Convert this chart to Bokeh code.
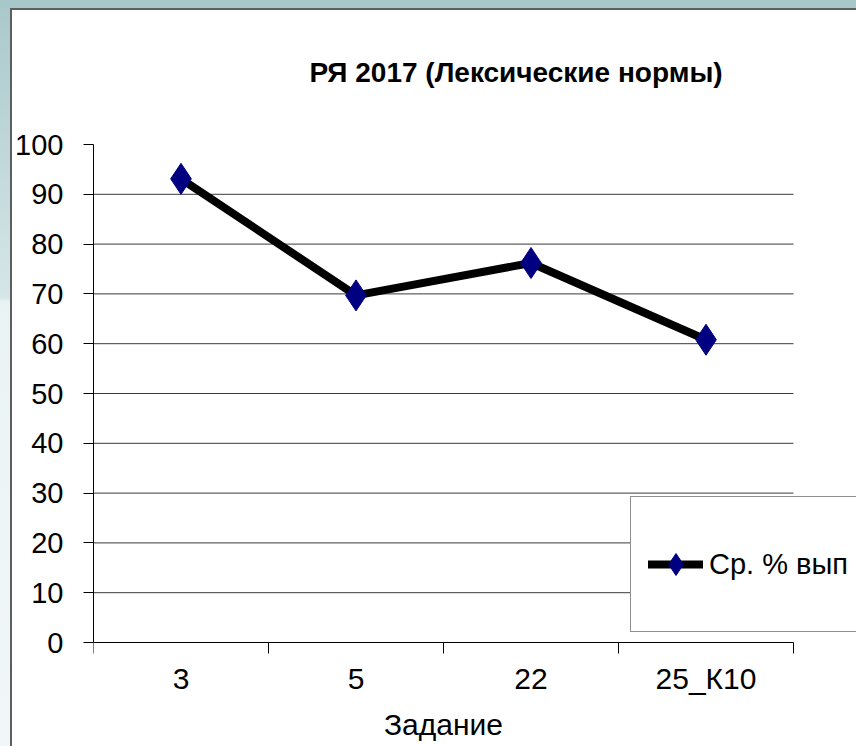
from bokeh.plotting import figure
from bokeh.models import Range1d, FixedTicker, Label, Legend, LegendItem
from bokeh.embed import file_html
from bokeh.resources import INLINE

# ---- data ----
title_text = "РЯ 2017 (Лексические нормы)"
categories = ["3", "5", "22", "25_К10"]
values = [93.1, 69.7, 76.2, 60.8]
series_name = "Ср. % вып"
x_title = "Задание"
y_ticks = [0, 10, 20, 30, 40, 50, 60, 70, 80, 90, 100]

FONT = "Liberation Sans"
W, H = 856, 746
LEFT, BOTTOM = 93, 104          # offsets of the value area (px)
AXIS_W, AXIS_H = 700, 498       # size of the value area (px)

n = len(categories)
xs = [i + 0.5 for i in range(n)]
ymax = y_ticks[-1]

# frame spans to the top / right / bottom edges so the title, legend and
# axis title can live in it; the axes are bounded to the value area
x_end = n * (W - LEFT) / AXIS_W
y_start = -BOTTOM * ymax / AXIS_H
y_end = (H - BOTTOM) * ymax / AXIS_H

p = figure(width=W, height=H, output_backend="svg", toolbar_location=None,
           title=None,
           x_range=Range1d(0, x_end), y_range=Range1d(y_start, y_end),
           min_border_left=LEFT, min_border_right=0,
           min_border_top=0, min_border_bottom=0)
p.outline_line_color = None
p.background_fill_color = None
p.border_fill_color = None
p.styles = {
    "background": (
        "linear-gradient(#5e5e5e,#5e5e5e) 10px 8px / 2px 100% no-repeat,"
        "linear-gradient(#5e5e5e,#5e5e5e) 10px 8px / 100% 2px no-repeat,"
        "linear-gradient(#a7c7c8,#a7c7c8) 0 0 / 100% 8px no-repeat,"
        "linear-gradient(to bottom,#a9c8ca 0px,#d6e6e8 298px,#eaf3f4 302px,#f1f7f8 100%) 0 0 / 10px 100% no-repeat,"
        "#ffffff"
    )
}

p.xgrid.visible = False
p.ygrid.visible = False

# horizontal grid lines (10..90)
grid_y = y_ticks[1:-1]
p.segment(x0=[0] * len(grid_y), y0=grid_y, x1=[n] * len(grid_y), y1=grid_y,
          line_color="#3a3a3a", line_width=1)

# y axis
ya = p.yaxis[0]
ya.bounds = (0, ymax)
ya.ticker = FixedTicker(ticks=y_ticks)
ya.major_tick_out = 10
ya.major_tick_in = 0
ya.minor_tick_out = 0
ya.minor_tick_in = 0
ya.major_label_standoff = 20
ya.major_label_text_font = FONT
ya.major_label_text_font_size = "29px"
ya.major_label_text_color = "black"
ya.axis_line_color = "black"
ya.major_tick_line_color = "black"

# x axis, fixed at y = 0
xa = p.xaxis[0]
xa.fixed_location = 0
xa.bounds = (0, n)
xa.ticker = FixedTicker(ticks=xs, minor_ticks=list(range(n + 1)))
xa.major_label_overrides = {x: c for x, c in zip(xs, categories)}
xa.major_tick_out = 0
xa.major_tick_in = 0
xa.minor_tick_out = 11
xa.minor_tick_in = 0
xa.minor_tick_line_color = "black"
xa.major_label_standoff = 8
xa.major_label_text_font = FONT
xa.major_label_text_font_size = "30px"
xa.major_label_text_color = "black"
xa.axis_line_color = "black"

# series
lr = p.line(xs, values, line_color="black", line_width=8,
            line_join="round", line_cap="round")
sr = p.scatter(xs, values, marker="diamond", size=31,
               fill_color="#000080", line_color="#000080")

legend = Legend(items=[LegendItem(label=series_name, renderers=[lr, sr])],
                location=(537, BOTTOM + 10), padding=17, spacing=0, margin=0,
                glyph_width=55, glyph_height=100, label_height=100,
                label_standoff=6,
                label_text_font=FONT, label_text_font_size="29px",
                label_text_color="black",
                border_line_color="#222222", border_line_width=1,
                background_fill_color="white", background_fill_alpha=1)
p.add_layout(legend)

# chart title
p.add_layout(Label(x=422.5, y=H - 72, x_units="screen", y_units="screen",
                   text=title_text, text_align="center", text_baseline="middle",
                   text_font=FONT, text_font_size="28px",
                   text_font_style="bold", text_color="black"))
# axis title
p.add_layout(Label(x=AXIS_W / 2, y=H - 724, x_units="screen", y_units="screen",
                   text=x_title, text_align="center", text_baseline="middle",
                   text_font=FONT, text_font_size="30px",
                   text_color="black"))

open("out.html", "w").write(file_html(p, INLINE))
